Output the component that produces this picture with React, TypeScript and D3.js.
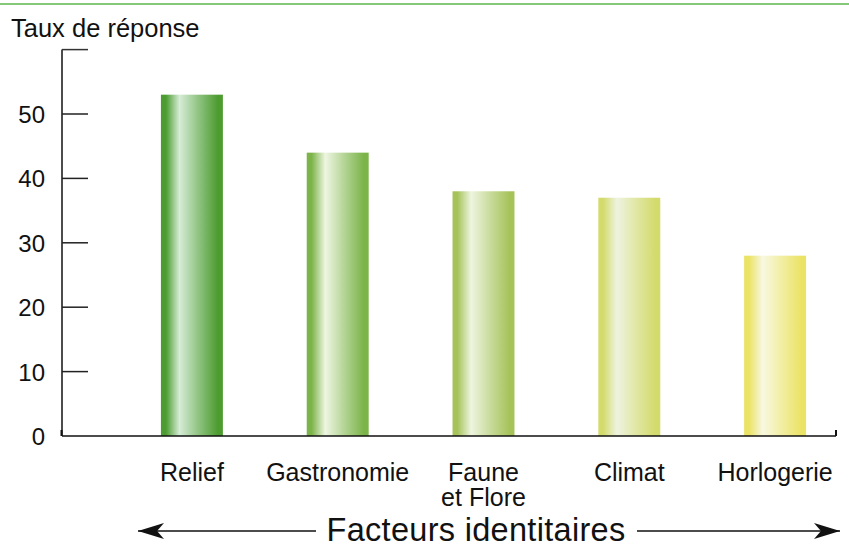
import React from "react";
import * as d3 from "d3";

const categories = ["Relief", "Gastronomie", "Faune\net Flore", "Climat", "Horlogerie"];
const values = [53, 44, 38, 37, 28];
const yTicks = [0, 10, 20, 30, 40, 50];
const edgeColors = ["#4c9c30", "#7cb44a", "#a6c35a", "#d3db6c", "#ebe366"];
const lightColors = ["#d6ecd6", "#eef6e2", "#eef5e0", "#eef3e0", "#f8f8e2"];

const W = 849;
const H = 547;
const FONT = "Liberation Sans, Arial, sans-serif";

export default function App() {
  const x = d3.scaleBand<string>().domain(categories).range([119, 848]).paddingInner(0.575).paddingOuter(0.2875);
  const y = d3.scaleLinear().domain([0, 60]).range([436, 49.6]);
  const x0 = 62;
  const xEnd = 836;

  return (
    <svg width={W} height={H} style={{ position: "absolute", left: 0, top: 0 }} fontFamily={FONT}>
      <defs>
        {categories.map((c, i) => {
          const mid = d3.interpolateRgb(edgeColors[i], lightColors[i])(0.5);
          return (
            <linearGradient key={i} id={`g${i}`} x1="0" x2="1" y1="0" y2="0">
              <stop offset="0" stopColor={edgeColors[i]} />
              <stop offset="0.08" stopColor={edgeColors[i]} />
              <stop offset="0.3" stopColor={lightColors[i]} />
              <stop offset="0.6" stopColor={mid} />
              <stop offset="0.92" stopColor={edgeColors[i]} />
              <stop offset="1" stopColor={edgeColors[i]} />
            </linearGradient>
          );
        })}
        <marker id="arrowR" viewBox="0 0 26 16" refX="26" refY="8" markerWidth="26" markerHeight="16" markerUnits="userSpaceOnUse" orient="auto">
          <path d="M0,0 L26,8 L0,16 L7,8 Z" fill="#111" />
        </marker>
        <marker id="arrowL" viewBox="0 0 26 16" refX="0" refY="8" markerWidth="26" markerHeight="16" markerUnits="userSpaceOnUse" orient="auto">
          <path d="M26,0 L0,8 L26,16 L19,8 Z" fill="#111" />
        </marker>
      </defs>
      <rect x={0} y={0} width={W} height={H} fill="#fff" />
      <line x1={0} x2={W} y1={4} y2={4} stroke="#5cb64e" strokeWidth={1.5} />
      <text x={11} y={37} fontSize={25.5} fill="#111">Taux de réponse</text>

      {categories.map((c, i) => (
        <rect key={c} x={x(c)} y={y(values[i])} width={x.bandwidth()} height={y(0) - y(values[i])} fill={`url(#g${i})`} />
      ))}

      {/* y axis */}
      <line x1={x0} x2={x0} y1={y(60)} y2={y(0)} stroke="#111" strokeWidth={1.5} />
      <line x1={x0} x2={88} y1={y(60)} y2={y(60)} stroke="#333" strokeWidth={1.5} />
      {yTicks.map((t) => (
        <g key={t}>
          {t > 0 && <line x1={x0} x2={88} y1={y(t)} y2={y(t)} stroke="#222" strokeWidth={1.5} />}
          <text x={45} y={y(t) + 9} fontSize={24} textAnchor="end" fill="#111">{t}</text>
        </g>
      ))}
      <line x1={x0 - 0.5} x2={x0 - 0.5} y1={y(0) - 6} y2={y(0)} stroke="#111" strokeWidth={2} />

      {/* x axis */}
      <line x1={x0} x2={xEnd} y1={y(0)} y2={y(0)} stroke="#111" strokeWidth={1.5} />
      <line x1={xEnd} x2={xEnd} y1={y(0) - 6} y2={y(0)} stroke="#111" strokeWidth={2} />

      {categories.map((c) => {
        const lines = c.split("\n");
        const cx = (x(c) as number) + x.bandwidth() / 2;
        return (
          <text key={c} x={cx} y={481} fontSize={25} textAnchor="middle" fill="#111">
            {lines.map((l, j) => (
              <tspan key={j} x={cx} dy={j === 0 ? 0 : 25}>{l}</tspan>
            ))}
          </text>
        );
      })}

      <line x1={138} x2={316} y1={531} y2={531} stroke="#111" strokeWidth={1.5} markerStart="url(#arrowL)" />
      <line x1={637} x2={840} y1={531} y2={531} stroke="#111" strokeWidth={1.5} markerEnd="url(#arrowR)" />
      <text x={476} y={541} fontSize={32.5} textAnchor="middle" fill="#111" letterSpacing={0.3}>Facteurs identitaires</text>
    </svg>
  );
}
